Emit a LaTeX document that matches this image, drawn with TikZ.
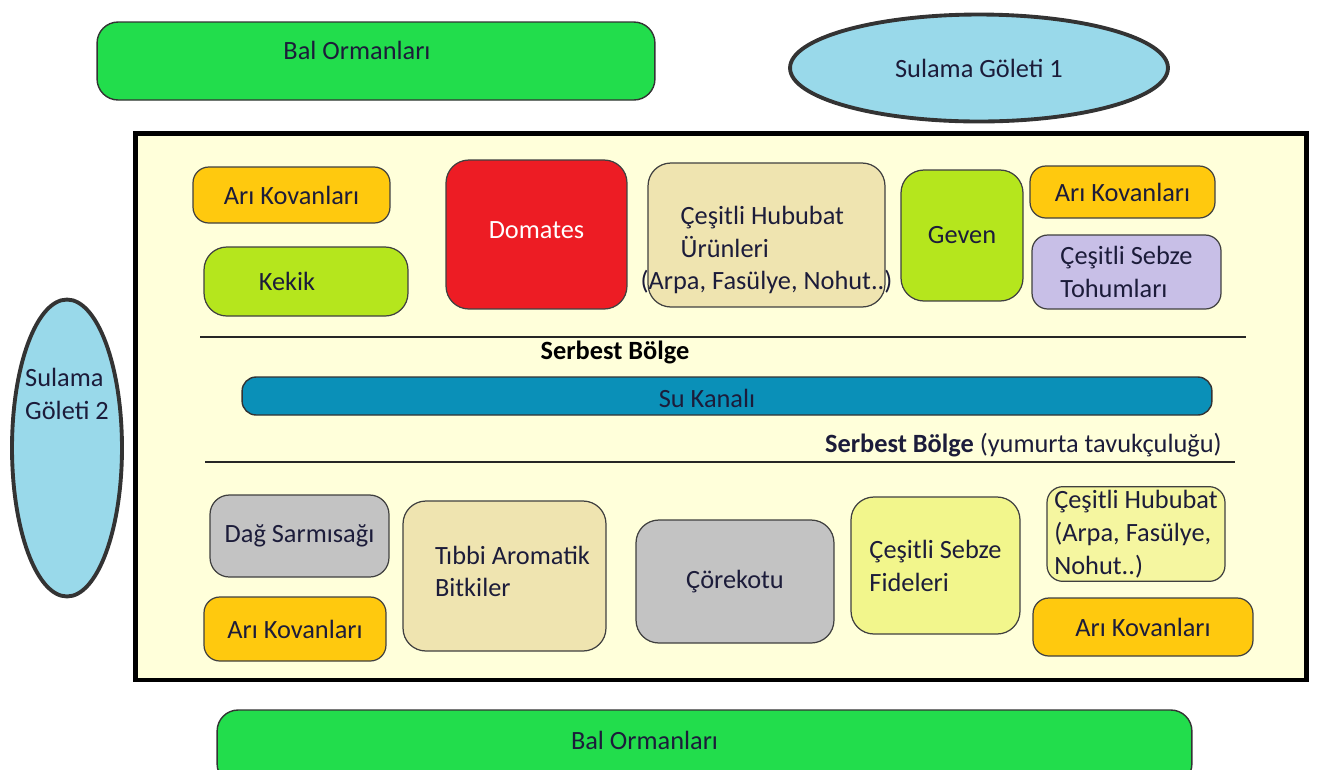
\documentclass[tikz,border=0pt]{standalone}
\usepackage{fontspec}
\setmainfont{Carlito}
\usepackage{tikz}
\usetikzlibrary{shapes.geometric, positioning}
\definecolor{forestGreen}{RGB}{34,221,76}
\definecolor{pondBlue}{RGB}{153,217,234}
\definecolor{canalBlue}{RGB}{10,144,184}
\definecolor{farmYellow}{RGB}{255,255,218}
\definecolor{hiveOrange}{RGB}{255,201,14}
\definecolor{herbLime}{RGB}{181,230,29}
\definecolor{tomatoRed}{RGB}{237,28,36}
\definecolor{wheatTan}{RGB}{239,228,176}
\definecolor{seedLilac}{RGB}{200,191,231}
\definecolor{stoneGrey}{RGB}{195,195,195}
\definecolor{sproutYellow}{RGB}{242,246,140}
\definecolor{grainYellow}{RGB}{245,246,160}
\definecolor{inkDark}{RGB}{28,28,58}

\begin{document}
\begin{tikzpicture}[
  x=0.02cm, y=-0.02cm,
  font=\fontsize{15}{18.7}\selectfont, text=inkDark,
  plotbox/.style={draw=black!75, line width=0.7pt, rounded corners=9pt, inner sep=2pt, align=left},
  bigplot/.style={plotbox, rounded corners=13pt},
  hive/.style={plotbox, fill=hiveOrange},
  herb/.style={bigplot, fill=herbLime},
  wheat/.style={bigplot, fill=wheatTan},
  stone/.style={bigplot, fill=stoneGrey},
  pond/.style={ellipse, draw=black!80, line width=2.2pt, fill=pondBlue, inner sep=0pt},
  forest/.style={draw=black!80, line width=0.8pt, fill=forestGreen, rounded corners=12pt},
  lbl/.style={align=left, inner sep=0pt},
  zoneline/.style={line width=1pt, black!85},
  zonetext/.style={font=\fontsize{15}{18}\selectfont\bfseries, text=black}
]
\useasboundingbox (0,0) rectangle (1322,769);

% Outside: forests and ponds
\node[forest, minimum width=11.16cm, minimum height=1.56cm,
  label={[lbl, xshift=-0.38cm, yshift=0.22cm]center:Bal Ormanları}] (balTop) at (376,61) {};
\node[pond, minimum width=7.56cm, minimum height=2.14cm] (pondOne) at (979,68) {Sulama Göleti 1};
\node[pond, minimum width=2.2cm, minimum height=5.94cm,
  label={[lbl, yshift=1.08cm]center:Sulama\\Göleti 2}] (pondTwo) at (67,448) {};
\node[forest, minimum width=19.5cm, minimum height=1.5cm,
  label={[lbl, xshift=-1.2cm, yshift=0.15cm]center:Bal Ormanları}] (balBot) at (704.5,747.5) {};

% Farm frame
\node[draw=black, line width=2.8pt, fill=farmYellow, minimum width=23.44cm, minimum height=10.94cm,
  inner sep=0pt] (farm) at (721,406.5) {};

% Upper plots
\node[hive, minimum width=3.94cm, minimum height=1.12cm] (hiveA) at (291.5,195) {Arı Kovanları};
\node[herb, minimum width=4.08cm, minimum height=1.38cm,
  label={[lbl, xshift=-0.38cm]center:Kekik}] (kekik) at (306,281.5) {};
\node[bigplot, fill=tomatoRed, minimum width=3.62cm, minimum height=2.98cm,
  label={[lbl, text=white, yshift=0.09cm]center:Domates}] (domates) at (536.5,234.5) {};
\node[wheat, minimum width=4.74cm, minimum height=2.88cm,
  label={[lbl, yshift=-0.3cm]center:\hspace*{0.8cm}Çeşitli Hububat\\\hspace*{0.8cm}Ürünleri\\(Arpa, Fasülye, Nohut..)}] (grainTop) at (766.5,235) {};
\node[herb, minimum width=2.44cm, minimum height=2.62cm] (geven) at (962,235.5) {Geven};
\node[hive, minimum width=3.7cm, minimum height=1.04cm] (hiveB) at (1122.5,192) {Arı Kovanları};
\node[plotbox, fill=seedLilac, minimum width=3.78cm, minimum height=1.48cm] (seeds) at (1126.5,272) {Çeşitli Sebze\\Tohumları};

% Free zones and canal
\coordinate (lineTopL) at (200,337);
\coordinate (lineTopR) at (1246,337);
\draw[zoneline] (lineTopL) -- (lineTopR);
\node[zonetext] (freeTop) at (615,352) {Serbest Bölge};
\node[draw=black!80, line width=0.8pt, fill=canalBlue, rounded corners=8pt, minimum width=19.4cm,
  minimum height=0.76cm, label={[lbl, xshift=-0.4cm, yshift=-0.04cm]center:Su Kanalı}] (kanal) at (727,396) {};
\node[anchor=east, inner sep=0pt] (freeLow) at (1222,445) {\textbf{Serbest Bölge} (yumurta tavukçuluğu)};
\coordinate (lineLowL) at (205,462);
\coordinate (lineLowR) at (1235,462);
\draw[zoneline] (lineLowL) -- (lineLowR);

% Lower plots
\node[stone, rounded corners=11pt, minimum width=3.58cm, minimum height=1.64cm] (dag) at (299.5,536) {Dağ Sarmısağı};
\node[hive, minimum width=3.64cm, minimum height=1.28cm] (hiveC) at (295,629) {Arı Kovanları};
\node[wheat, minimum width=4.06cm, minimum height=3.0cm,
  label={[lbl, xshift=0.16cm, yshift=0.09cm]center:Tıbbi Aromatik\\Bitkiler}] (tibbi) at (504.5,576) {};
\node[stone, minimum width=3.96cm, minimum height=2.46cm] (corek) at (735,581.5) {Çörekotu};
\node[bigplot, fill=sproutYellow, minimum width=3.38cm, minimum height=2.74cm] (fide) at (935.5,565.5) {Çeşitli Sebze\\Fideleri};
\node[plotbox, fill=grainYellow, minimum width=3.56cm, minimum height=1.88cm] (grainLow) at (1136,534) {Çeşitli Hububat\\(Arpa, Fasülye,\\Nohut..)};
\node[hive, minimum width=4.4cm, minimum height=1.16cm] (hiveD) at (1143,627) {Arı Kovanları};
\end{tikzpicture}
\end{document}
